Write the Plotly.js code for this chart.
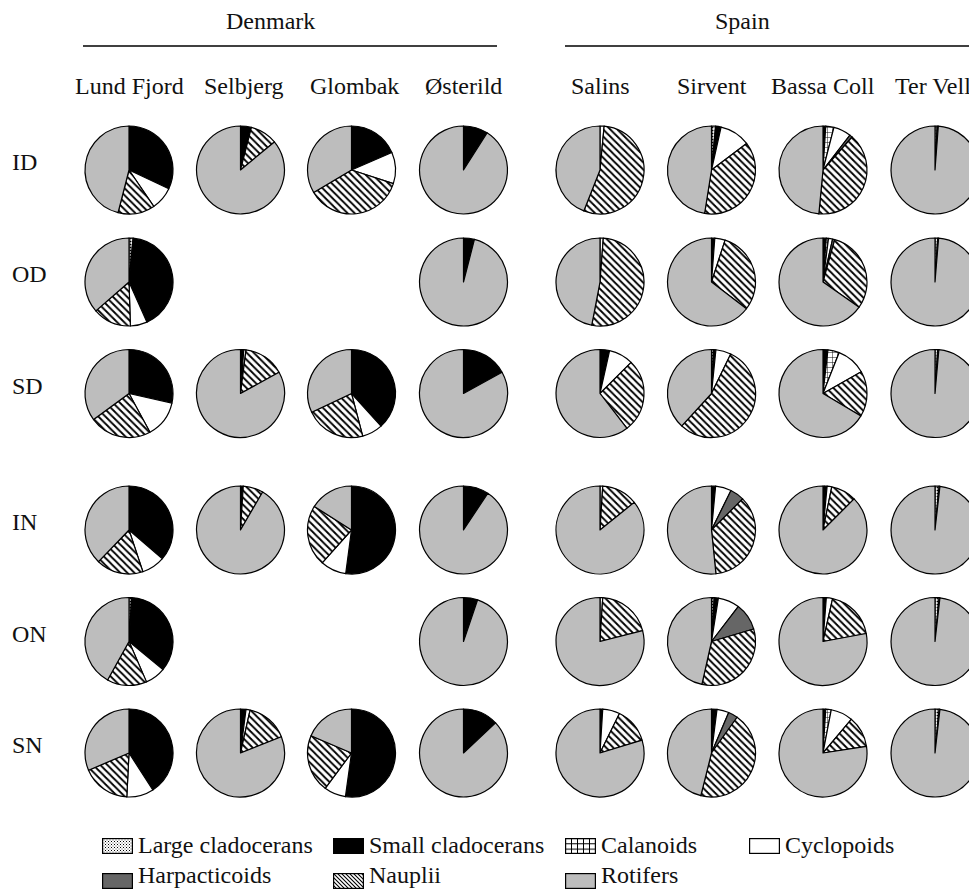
<!DOCTYPE html>
<html>
<head>
<meta charset="utf-8">
<script src="https://cdn.plot.ly/plotly-3.0.1.min.js"></script>
<style>
html, body { margin: 0; padding: 0; overflow: hidden; background: #fff; }
#chart { width: 1000px; height: 892px; }
</style>
</head>
<body>
<div id="chart"></div>
<script>
// ---------------- DATA ----------------
const countries = ['Denmark', 'Spain'];
const sites = ['Lund Fjord', 'Selbjerg', 'Glombak', 'Østerild', 'Salins', 'Sirvent', 'Bassa Coll', 'Ter Vell'];
const siteCountry = ['Denmark', 'Denmark', 'Denmark', 'Denmark', 'Spain', 'Spain', 'Spain', 'Spain'];
const habitats = ['ID', 'OD', 'SD', 'IN', 'ON', 'SN'];
const taxa = ['Large cladocerans', 'Small cladocerans', 'Calanoids', 'Cyclopoids', 'Harpacticoids', 'Nauplii', 'Rotifers'];

// % composition per habitat row (ID, OD, SD, IN, ON, SN), taxa order as above; null = no sample
const lundFjord = [
  [0, 32.0, 0, 8.5, 0, 13.5, 46.0],
  [1.5, 41.8, 0, 6.2, 0, 14.1, 36.4],
  [0, 28.5, 0, 13.6, 0, 22.8, 35.1],
  [0, 36.3, 0, 8.6, 0, 17.3, 37.8],
  [1.0, 35.0, 0, 7.5, 0, 14.6, 41.9],
  [0, 40.9, 0, 9.9, 0, 17.8, 31.4]
];
const selbjerg = [
  [0, 4.0, 0, 0, 0, 10.0, 86.0],
  null,
  [0, 1.2, 0, 0.8, 0, 15.0, 83.0],
  [0, 1.0, 0, 0, 0, 7.4, 91.6],
  null,
  [0, 2.0, 0, 1.5, 0, 15.5, 81.0]
];
const glombak = [
  [0, 18.5, 0, 11.5, 0, 36.5, 33.5],
  null,
  [0, 38.3, 0, 7.6, 0, 22.1, 32.0],
  [0, 52.1, 0, 9.5, 0, 22.4, 16.0],
  null,
  [0, 52.2, 0, 8.0, 0, 21.2, 18.6]
];
const osterild = [
  [0, 9.0, 0, 0, 0, 0, 91.0],
  [0, 4.0, 0, 0, 0, 0, 96.0],
  [0, 17.0, 0, 0, 0, 0, 83.0],
  [0, 9.3, 0, 0, 0, 0, 90.7],
  [0, 5.2, 0, 0, 0, 0, 94.8],
  [0, 13.0, 0, 0, 0, 0, 87.0]
];
const salins = [
  [0, 0, 0, 1.5, 0, 54.5, 44.0],
  [0, 0, 0, 1.2, 0, 51.8, 47.0],
  [0, 3.5, 0, 9.0, 0, 27.0, 60.5],
  [0, 0, 0, 1.0, 0, 13.2, 85.8],
  [0, 0, 0, 1.0, 0, 20.0, 79.0],
  [0, 1.0, 0, 6.3, 0, 13.0, 79.7]
];
const sirvent = [
  [1.5, 2.0, 0, 11.2, 0, 37.8, 47.5],
  [0, 1.2, 0, 3.8, 0, 30.4, 64.6],
  [0.8, 0.8, 0, 5.6, 0, 54.6, 38.2],
  [0, 1.5, 0, 5.8, 5.2, 35.9, 51.6],
  [1.0, 1.5, 0, 7.9, 10.0, 33.1, 46.5],
  [0, 2.0, 0, 4.4, 3.5, 44.0, 46.1]
];
const bassaColl = [
  [0, 1.0, 3.0, 6.5, 1.0, 40.0, 48.5],
  [0, 1.2, 0.8, 1.5, 0.8, 30.4, 65.3],
  [0, 1.8, 4.2, 10.8, 0, 16.7, 66.5],
  [0.5, 1.0, 0, 1.7, 0, 9.3, 87.5],
  [0, 1.2, 0, 2.3, 0, 18.6, 77.9],
  [0, 1.0, 2.0, 8.1, 0, 11.5, 77.4]
];
const terVell = [
  [0.8, 0.4, 0, 0, 0, 0, 98.8],
  [1.0, 0.3, 0, 0, 0, 0, 98.7],
  [1.0, 0.4, 0, 0, 0, 0, 98.6],
  [1.5, 0.3, 0, 0, 0, 0, 98.2],
  [1.5, 0.3, 0, 0, 0, 0, 98.2],
  [1.5, 0.3, 0, 0, 0, 0, 98.2]
];
const siteData = [lundFjord, selbjerg, glombak, osterild, salins, sirvent, bassaColl, terVell];

// ---------------- STYLE / LAYOUT ----------------
const W = 1000, H = 892, R = 44;
const colX = [129, 240.5, 351.5, 463.5, 600, 711.5, 823, 935];
const rowY = [170, 282, 393.5, 530, 641.5, 753];
const taxaColor = ['#ffffff', '#000000', '#ffffff', '#ffffff', '#666666', '#ffffff', '#bdbdbd'];
const taxaShape = ['.', '', '+', '', '', '\\', ''];
const taxaSize = [3, 6, 5, 6, 6, 5, 6];
const taxaSolid = [0.35, 0.3, 0.18, 0.3, 0.3, 0.38, 0.3];
const FONT = 'Liberation Serif, Times New Roman, serif';
const px = x => x / W;
const py = y => 1 - y / H;

const traces = [];
siteData.forEach((rows, c) => {
  rows.forEach((vals, r) => {
    if (!vals) return;
    const idx = vals.map((v, i) => i).filter(i => vals[i] > 0);
    traces.push({
      type: 'pie',
      name: sites[c] + ' ' + habitats[r],
      labels: idx.map(i => taxa[i]),
      values: idx.map(i => vals[i]),
      sort: false,
      direction: 'clockwise',
      rotation: 0,
      textinfo: 'none',
      hoverinfo: 'label+percent+name',
      showlegend: false,
      marker: {
        colors: idx.map(i => taxaColor[i]),
        line: { color: '#000', width: 1.2 },
        pattern: {
          shape: idx.map(i => taxaShape[i]),
          fgcolor: '#000',
          size: idx.map(i => taxaSize[i]),
          solidity: idx.map(i => taxaSolid[i]),
          fillmode: 'replace'
        }
      },
      domain: {
        x: [px(colX[c] - R), px(colX[c] + R)],
        y: [py(rowY[r] + R), py(rowY[r] - R)]
      }
    });
  });
});

const annotations = [];
const shapes = [];
const images = [];
function txt(t, x, y, xa, extra) {
  annotations.push(Object.assign({
    text: t, x: px(x), y: py(y), xref: 'paper', yref: 'paper',
    xanchor: xa || 'center', yanchor: 'middle', showarrow: false,
    font: { family: FONT, size: 24, color: '#111' }
  }, extra || {}));
}
// country headers and rules
const countrySpan = { Denmark: [83, 497], Spain: [565, 1000] };
const countryTextX = { Denmark: 270, Spain: 742 };
countries.forEach(cn => {
  txt(cn, countryTextX[cn], 21);
  shapes.push({ type: 'line', xref: 'paper', yref: 'paper',
    x0: px(countrySpan[cn][0]), x1: px(countrySpan[cn][1]), y0: py(46), y1: py(46),
    line: { color: '#000', width: 1.5 } });
});
// site labels
sites.forEach((s, i) => txt(s, colX[i] + (i === 7 ? -2 : (i === 1 ? 3 : (i === 2 ? 3 : 0))), 86));
// habitat labels
habitats.forEach((h, i) => txt(h, 10, rowY[i] - 8, 'left'));

// legend (custom swatches)
function swatch(i, w, h) {
  let defs = '', fill = taxaColor[i];
  if (taxaShape[i] === '.') {
    defs = "<pattern id='p' width='3' height='3' patternUnits='userSpaceOnUse'><rect width='3' height='3' fill='#fff'/><rect x='0' y='0' width='1' height='1' fill='#000'/><rect x='1.5' y='1.5' width='1' height='1' fill='#555'/></pattern>";
    fill = 'url(#p)';
  } else if (taxaShape[i] === '+') {
    defs = "<pattern id='p' width='6' height='5.3' patternUnits='userSpaceOnUse'><rect width='6' height='5.3' fill='#fff'/><rect x='0' y='0' width='1' height='5.3' fill='#000'/><rect x='0' y='0' width='6' height='1' fill='#000'/></pattern>";
    fill = 'url(#p)';
  } else if (taxaShape[i] === '\\') {
    defs = "<pattern id='p' width='4' height='4' patternUnits='userSpaceOnUse'><rect width='4' height='4' fill='#fff'/><path d='M-1,-1 L5,5 M-1,3 L1,5 M3,-1 L5,1' stroke='#000' stroke-width='1.1'/></pattern>";
    fill = 'url(#p)';
  }
  const svg = "<svg xmlns='http://www.w3.org/2000/svg' width='" + w + "' height='" + h + "' viewBox='0 0 " + w + " " + h + "'>" +
    "<defs>" + defs + "</defs><rect x='0.6' y='0.6' width='" + (w - 1.2) + "' height='" + (h - 1.2) + "' fill=\"" + fill + "\" stroke='#000' stroke-width='1.2'/></svg>";
  return 'data:image/svg+xml;charset=utf-8,' + encodeURIComponent(svg);
}
const legCols = [102, 333, 565, 749];
const legRowsTop = [838, 873];
const legTextMid = [845, 875];
taxa.forEach((t, i) => {
  const col = i < 4 ? i : i - 4;
  const row = i < 4 ? 0 : 1;
  const x0 = legCols[col], y0 = legRowsTop[row];
  images.push({ source: swatch(i, 31, 16), xref: 'paper', yref: 'paper',
    x: px(x0), y: py(y0), sizex: 31 / W, sizey: 16 / H,
    xanchor: 'left', yanchor: 'top', sizing: 'stretch', layer: 'above' });
  txt(t, x0 + 34, legTextMid[row], 'left');
});

const layout = {
  width: W, height: H,
  margin: { l: 0, r: 0, t: 0, b: 0 },
  paper_bgcolor: '#fff', plot_bgcolor: '#fff',
  showlegend: false,
  annotations: annotations,
  shapes: shapes,
  images: images,
  font: { family: FONT }
};
Plotly.newPlot('chart', traces, layout, { displayModeBar: false, staticPlot: true });
</script>
</body>
</html>
